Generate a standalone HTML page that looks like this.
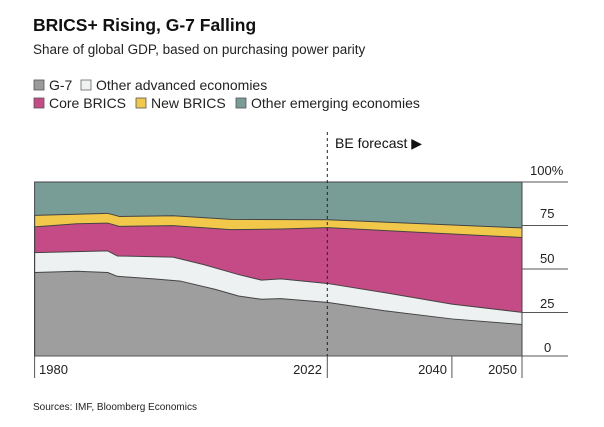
<!DOCTYPE html>
<html><head><meta charset="utf-8"><style>
html,body{margin:0;padding:0;background:#fff;}
svg{display:block;font-family:"Liberation Sans",Arial,sans-serif;}
</style></head><body>
<svg width="604" height="427" viewBox="0 0 604 427" xmlns="http://www.w3.org/2000/svg">
<rect width="604" height="427" fill="#fff"/>
<text x="33" y="31" font-size="17.5" font-weight="bold" fill="#111">BRICS+ Rising, G-7 Falling</text>
<text x="33" y="54" font-size="13.5" fill="#222">Share of global GDP, based on purchasing power parity</text>
<g font-size="14" fill="#222">
<rect x="34" y="80" width="10" height="10" fill="#9b9b9b" stroke="#555" stroke-width="0.8"/>
<text x="49" y="90">G-7</text>
<rect x="81" y="80" width="10" height="10" fill="#f0f2f2" stroke="#666" stroke-width="0.8"/>
<text x="96" y="90">Other advanced economies</text>
<rect x="34" y="98" width="10" height="10" fill="#c54b86" stroke="#555" stroke-width="0.8"/>
<text x="49" y="108">Core BRICS</text>
<rect x="136" y="98" width="10" height="10" fill="#f2c84b" stroke="#555" stroke-width="0.8"/>
<text x="151" y="108">New BRICS</text>
<rect x="236" y="98" width="10" height="10" fill="#789d96" stroke="#555" stroke-width="0.8"/>
<text x="251" y="108">Other emerging economies</text>
</g>
<text x="335" y="148" font-size="14" fill="#111">BE forecast ▶</text>

<g transform="translate(0,356) scale(1,-1.74)" stroke="#444" stroke-width="1" stroke-linejoin="round">
<rect x="34.6" y="0" width="487.4" height="100" fill="#789d96" stroke="none"/>
<polygon vector-effect="non-scaling-stroke" fill="#f2c84b" points="34.6,0 34.6,80.8 107.7,82 119.2,80.2 173,80.6 230.8,78.5 327.3,78.3 522,73.6 522,0"/>
<polygon vector-effect="non-scaling-stroke" fill="#c54b86" points="34.6,0 34.6,74.2 76.9,76 107.7,76.4 119.2,74.5 173,74.9 230.8,72.6 280.8,73 327.3,73.8 522,68.1 522,0"/>
<polygon vector-effect="non-scaling-stroke" fill="#eef1f1" points="34.6,0 34.6,59.4 107.7,60.4 117.3,57.5 173,56.8 203.8,52.5 238.5,46.8 261.5,43.6 280.8,44.3 327.3,41.7 384.6,36.4 451.9,29.8 522,25.1 522,0"/>
<polygon vector-effect="non-scaling-stroke" fill="#9e9e9e" points="34.6,0 34.6,48 76.9,48.7 107.7,48 117.3,45.8 153.8,44.3 180.8,43 215.4,38.3 238.5,34.5 261.5,32.6 280.8,33 327.3,30.8 384.6,26 451.9,21.3 522,18.1 522,0"/>
</g>
<rect x="34.6" y="182" width="487.4" height="174" fill="none" stroke="#444" stroke-width="1"/>
<g stroke="#555" stroke-width="1">
<line x1="522" y1="182" x2="568" y2="182"/>
<line x1="522" y1="225.5" x2="568" y2="225.5"/>
<line x1="522" y1="269" x2="568" y2="269"/>
<line x1="522" y1="312.5" x2="568" y2="312.5"/>
<line x1="34" y1="356" x2="568" y2="356"/>
<line x1="34.6" y1="356" x2="34.6" y2="378"/>
<line x1="327.3" y1="356" x2="327.3" y2="378"/>
<line x1="451.9" y1="356" x2="451.9" y2="378"/>
<line x1="522" y1="356" x2="522" y2="378"/>
</g>
<line x1="327.3" y1="132" x2="327.3" y2="356" stroke="#222" stroke-width="1" stroke-dasharray="3,3"/>
<g font-size="13" fill="#222">
<text x="530" y="175">100%</text>
<text x="540" y="218">75</text>
<text x="540" y="263">50</text>
<text x="540" y="308">25</text>
<text x="544" y="352">0</text>
<text x="39" y="374">1980</text>
<text x="322" y="374" text-anchor="end">2022</text>
<text x="447" y="374" text-anchor="end">2040</text>
<text x="517" y="374" text-anchor="end">2050</text>
</g>
<text x="33" y="410" font-size="10" fill="#222">Sources: IMF, Bloomberg Economics</text>
</svg>
</body></html>
